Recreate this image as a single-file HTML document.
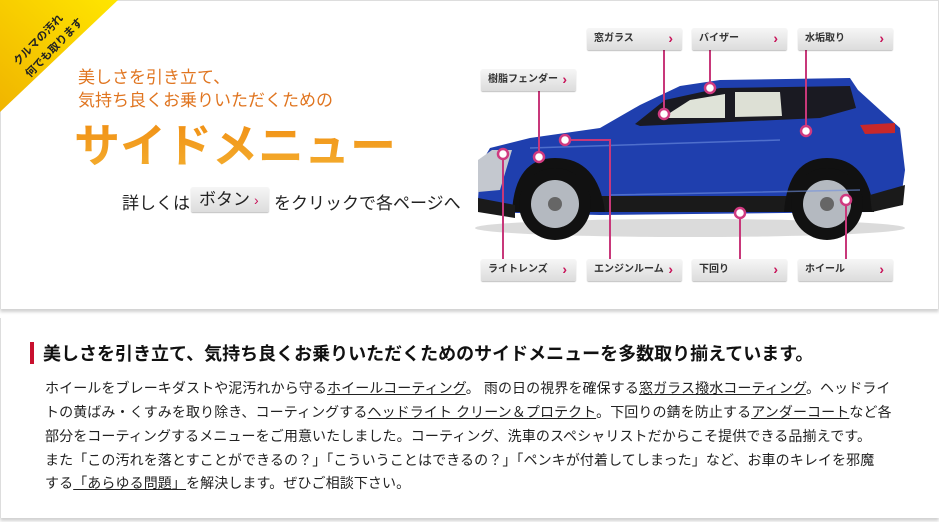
<!DOCTYPE html>
<html><head><meta charset="utf-8">
<style>
*{margin:0;padding:0;box-sizing:border-box}
body{width:939px;height:522px;background:#fff;font-family:"Liberation Sans","Noto Sans CJK JP",sans-serif;position:relative;overflow:hidden;color:#222}
.panel1{position:absolute;left:0;top:0;width:939px;height:309px;border:1px solid #ddd;border-bottom:none;box-shadow:0 3px 3px rgba(0,0,0,0.18)}
.panel2{position:absolute;left:0;top:318px;width:939px;height:200px;border-left:1px solid #ddd;box-shadow:0 3px 3px rgba(0,0,0,0.18)}
.abs{position:absolute;white-space:nowrap}
.btn{position:absolute;height:22px;width:95px;background:linear-gradient(#f6f6f6,#dcdcdc);border-radius:2px;box-shadow:0 1px 1px rgba(0,0,0,0.25);font-size:10px;font-weight:bold;color:#333;line-height:22px;padding-left:7px}
.btn:after{content:"›";position:absolute;right:9px;top:-1px;color:#c8145a;font-size:14px}
.ln{position:absolute;background:#c8387a}
.sub{font-size:17px;color:#e07520}
p.t{position:absolute;left:45px;font-size:14px;color:#222;white-space:nowrap;letter-spacing:0.1px}
u{text-decoration:underline}
</style></head><body>
<div class="panel1"></div>
<div class="panel2"></div>
<svg class="abs" style="left:0;top:0" width="130" height="120"><defs><linearGradient id="yg" x1="0" y1="1" x2="1" y2="0"><stop offset="0" stop-color="#f0b400"/><stop offset="1" stop-color="#ffe600"/></linearGradient></defs><polygon points="0,0 118,0 0,112" fill="url(#yg)"/>
<text transform="translate(18,66) rotate(-46)" font-size="11" font-weight="bold" fill="#222" font-family="Liberation Sans,Noto Sans CJK JP,sans-serif">クルマの汚れ</text>
<text transform="translate(30,78) rotate(-46)" font-size="11" font-weight="bold" fill="#222" font-family="Liberation Sans,Noto Sans CJK JP,sans-serif">何でも取ります</text></svg>
<div class="abs sub" style="left:78px;top:63px">美しさを引き立て、</div>
<div class="abs sub" style="left:78px;top:86px">気持ち良くお乗りいただくための</div>
<div class="abs" style="left:74px;top:110px;font-size:46px;background:linear-gradient(#f08a10,#f4b030);-webkit-background-clip:text;color:transparent;font-weight:bold">サイドメニュー</div>
<div class="abs" style="left:122px;top:189px;font-size:17px;color:#222">詳しくは</div>
<div class="abs" style="left:191px;top:187px;width:78px;height:25px;background:linear-gradient(#f6f6f6,#ddd);border-radius:2px;box-shadow:0 1px 1px rgba(0,0,0,0.25);font-size:17px;line-height:25px;padding-left:8px">ボタン<span style="color:#c8145a;font-size:14px;margin-left:4px">›</span></div>
<div class="abs" style="left:274px;top:189px;font-size:17px;color:#222">をクリックで各ページへ</div>

<svg class="abs" style="left:0;top:0" width="939" height="300">
<ellipse cx="690" cy="228" rx="215" ry="9" fill="#ccc" opacity="0.7"/>
<path d="M478,200 L480,165 L490,148 L530,138 L600,128 L640,105 L680,86 L720,80 L850,78 L858,90 L880,110 L900,128 L905,170 L900,205 L870,212 L600,215 L480,212 Z" fill="#1f3fae"/>
<path d="M635,124 L665,100 L720,88 L850,86 L856,108 L820,118 L640,126 Z" fill="#1a1a22"/>
<path d="M662,118 L690,100 L725,94 L725,118 Z" fill="#dfe3d8"/>
<path d="M735,92 L780,92 L782,116 L735,117 Z" fill="#dde0d5"/>
<path d="M478,160 L492,150 L512,150 L500,190 L478,192 Z" fill="#c4c8cf"/>
<path d="M860,125 L895,123 L895,133 L865,134 Z" fill="#c8282a"/>
<rect x="580" y="196" width="220" height="16" fill="#1a1a1a"/>
<path d="M512,212 Q515,158 555,158 Q598,158 605,212 Z" fill="#111"/>
<path d="M784,212 Q788,158 827,158 Q868,158 874,212 Z" fill="#111"/>
<path d="M478,198 L515,205 L515,218 L478,212 Z" fill="#1a1a1a"/>
<path d="M870,195 L905,185 L903,205 L872,212 Z" fill="#1a1a1a"/>
<circle cx="555" cy="204" r="36" fill="#111"/><circle cx="555" cy="204" r="24" fill="#b4b9c0"/><circle cx="555" cy="204" r="7" fill="#666"/>
<circle cx="827" cy="204" r="36" fill="#111"/><circle cx="827" cy="204" r="24" fill="#b4b9c0"/><circle cx="827" cy="204" r="7" fill="#666"/>
<path d="M530,148 L780,140 M610,195 L860,190" stroke="#7090e0" stroke-width="1.5" opacity="0.6"/>
</svg>

<div class="ln" style="left:663px;top:50px;width:2px;height:64px"></div>
<div class="ln" style="left:709px;top:50px;width:2px;height:38px"></div>
<div class="ln" style="left:805px;top:50px;width:2px;height:81px"></div>
<div class="ln" style="left:538px;top:91px;width:2px;height:66px"></div>
<div class="ln" style="left:502px;top:154px;width:2px;height:105px"></div>
<div class="ln" style="left:565px;top:139px;width:45px;height:2px"></div>
<div class="ln" style="left:609px;top:139px;width:2px;height:120px"></div>
<div class="ln" style="left:739px;top:213px;width:2px;height:46px"></div>
<div class="ln" style="left:845px;top:200px;width:2px;height:59px"></div>
<svg class="abs" style="left:0;top:0" width="939" height="300">
<g fill="#fff" stroke="#d03a80" stroke-width="2.5">
<circle cx="664" cy="114" r="5"/><circle cx="710" cy="88" r="5"/><circle cx="806" cy="131" r="5"/>
<circle cx="539" cy="157" r="5"/><circle cx="503" cy="154" r="5"/><circle cx="565" cy="140" r="5"/>
<circle cx="740" cy="213" r="5"/><circle cx="846" cy="200" r="5"/></g></svg>

<div class="btn" style="left:587px;top:28px">窓ガラス</div>
<div class="btn" style="left:692px;top:28px">バイザー</div>
<div class="btn" style="left:798px;top:28px">水垢取り</div>
<div class="btn" style="left:481px;top:69px">樹脂フェンダー</div>
<div class="btn" style="left:481px;top:259px">ライトレンズ</div>
<div class="btn" style="left:587px;top:259px">エンジンルーム</div>
<div class="btn" style="left:692px;top:259px">下回り</div>
<div class="btn" style="left:798px;top:259px">ホイール</div>

<div class="abs" style="left:30px;top:342px;width:4px;height:22px;background:#c8102e"></div>
<div class="abs" style="left:43px;top:340px;font-size:18px;font-weight:bold;color:#111">美しさを引き立て、気持ち良くお乗りいただくためのサイドメニューを多数取り揃えています。</div>
<p class="t" style="top:378px">ホイールをブレーキダストや泥汚れから守る<u>ホイールコーティング</u>。 雨の日の視界を確保する<u>窓ガラス撥水コーティング</u>。ヘッドライ</p>
<p class="t" style="top:402px">トの黄ばみ・くすみを取り除き、コーティングする<u>ヘッドライト クリーン＆プロテクト</u>。下回りの錆を防止する<u>アンダーコート</u>など各</p>
<p class="t" style="top:426px">部分をコーティングするメニューをご用意いたしました。コーティング、洗車のスペシャリストだからこそ提供できる品揃えです。</p>
<p class="t" style="top:450px">また「この汚れを落とすことができるの？」「こういうことはできるの？」「ペンキが付着してしまった」など、お車のキレイを邪魔</p>
<p class="t" style="top:473px">する<u>「あらゆる問題」</u>を解決します。ぜひご相談下さい。</p>
</body></html>
